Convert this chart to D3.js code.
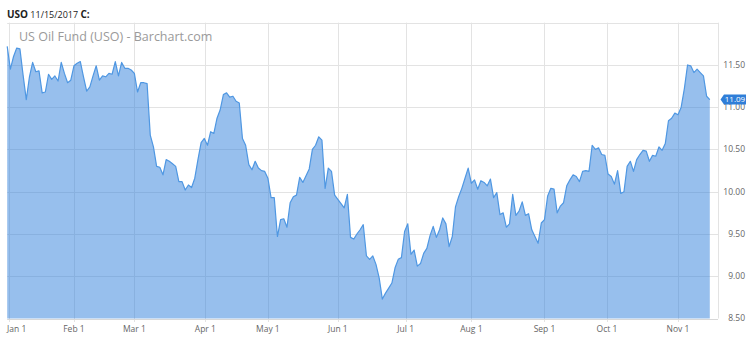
<!DOCTYPE html>
<html><head><meta charset="utf-8">
<script src="https://cdn.jsdelivr.net/npm/d3@7"></script>
<style>body{margin:0;background:#fff}svg{display:block;font-family:"Open Sans",sans-serif}</style>
</head><body><svg id="c" width="750" height="339"></svg>
<script>
// Daily closes, Dec 30 2016 .. Nov 15 2017
const closes = [
11.72,11.45,11.60,11.70,11.69,11.38,11.09,11.36,11.53,11.42,
11.43,11.17,11.18,11.39,11.33,11.37,11.31,11.53,11.40,11.29,
11.32,11.49,11.52,11.54,11.36,11.19,11.24,11.37,11.49,11.32,
11.37,11.36,11.40,11.39,11.54,11.37,11.53,11.46,11.46,11.44,
11.40,11.18,11.29,11.29,11.28,10.67,10.53,10.30,10.29,10.20,
10.38,10.36,10.33,10.30,10.12,10.12,10.02,10.08,10.05,10.16,
10.38,10.58,10.63,10.55,10.71,10.69,10.87,10.97,11.15,11.17,
11.12,11.13,11.07,11.05,10.63,10.55,10.32,10.26,10.36,10.28,
10.25,10.24,10.16,9.93,9.93,9.47,9.67,9.68,9.58,9.87,
9.94,9.96,10.17,10.11,10.19,10.27,10.50,10.55,10.65,10.61,
10.04,10.28,10.24,9.96,9.91,9.86,9.81,9.97,9.46,9.44,
9.50,9.55,9.61,9.24,9.20,9.24,9.14,8.98,8.73,8.80,
8.86,8.92,9.10,9.20,9.22,9.53,9.62,9.26,9.31,9.12,
9.15,9.27,9.33,9.48,9.59,9.46,9.55,9.69,9.62,9.35,
9.47,9.82,9.94,10.04,10.16,10.28,10.10,10.14,10.03,10.13,
10.11,10.07,10.15,9.93,9.99,9.73,9.75,9.58,9.62,9.97,
9.72,9.77,9.88,9.72,9.74,9.55,9.47,9.39,9.63,9.67,
9.95,10.04,10.03,9.75,9.83,9.87,10.07,10.14,10.20,10.18,
10.12,10.24,10.25,10.24,10.55,10.50,10.52,10.44,10.43,10.21,
10.18,10.09,10.25,9.98,10.00,10.30,10.36,10.24,10.38,10.44,
10.49,10.48,10.36,10.43,10.42,10.53,10.49,10.57,10.84,10.87,
10.93,10.91,11.00,11.22,11.50,11.49,11.41,11.45,11.41,11.37,
11.13,11.09
];
const firstDay = "2016-12-30";
const lastDay = "2017-11-15";
const holidays = ["2017-01-02","2017-01-16","2017-02-20","2017-04-14","2017-05-29","2017-07-04","2017-09-04"];
const tickDates = ["2017-01-01","2017-02-01","2017-03-01","2017-04-01","2017-05-01","2017-06-01","2017-07-01","2017-08-01","2017-09-01","2017-10-01","2017-11-01"];
const tickLabels = ["Jan 1","Feb 1","Mar 1","Apr 1","May 1","Jun 1","Jul 1","Aug 1","Sep 1","Oct 1","Nov 1"];
const yTicks = [8.5,9,9.5,10,10.5,11,11.5];
const yGrid = [9,9.5,10,10.5,11,11.5,12];
const yTickLabels = ["8.50","9.00","9.50","10.00","10.50","11.00","11.50"];
const lastLabel = "11.09";
const symbol = "USO", dateText = "11/15/2017", closeText = "C:";
const titleText = "US Oil Fund (USO) - Barchart.com";

const parse = d3.timeParse("%Y-%m-%d"), fmt = d3.timeFormat("%Y-%m-%d");
const hol = new Set(holidays);
const days = d3.timeDay.range(parse(firstDay), d3.timeDay.offset(parse(lastDay), 1))
  .filter(d => d.getDay() % 6 !== 0 && !hol.has(fmt(d)));
const n = Math.min(days.length, closes.length);
const data = d3.range(n).map(i => ({i, date: days[i], v: closes[i]}));

const L = 7.2, R = 709.8, boxR = 718, T = 22.7, B = 318.5;
const x = d3.scaleLinear().domain([0, n - 1]).range([L, R]);
const y = d3.scaleLinear().domain([8.5, 12]).range([B, T]);

function pos(date) {
  const k = d3.bisectLeft(days, date);
  if (k >= days.length) return n - 1;
  if (+days[k] === +date || k === 0) return k;
  return k - 1 + (date - days[k - 1]) / (days[k] - days[k - 1]);
}

const svg = d3.select("#c");
const grid = "#e3e3e3";

// header
const h = svg.append("text").attr("x", 7).attr("y", 17.5).attr("fill", "#222").style("font-size", "10px");
h.append("tspan").attr("font-weight", "bold").text(symbol);
h.append("tspan").style("font-size", "9px").text(" " + dateText + " ");
h.append("tspan").attr("font-weight", "bold").text(closeText);

// horizontal grid
svg.append("g").selectAll("line").data(yGrid).join("line")
  .attr("x1", L).attr("x2", boxR).attr("y1", d => Math.round(y(d)) + 0.5).attr("y2", d => Math.round(y(d)) + 0.5)
  .attr("stroke", grid).attr("stroke-width", 1);
// right border
svg.append("line").attr("x1", boxR + 0.5).attr("x2", boxR + 0.5).attr("y1", T).attr("y2", B)
  .attr("stroke", grid);
// vertical grid + ticks
const tickPos = tickDates.map(s => x(pos(parse(s))));
svg.append("g").selectAll("line").data(tickPos).join("line")
  .attr("x1", d => Math.round(d) + 0.5).attr("x2", d => Math.round(d) + 0.5)
  .attr("y1", T).attr("y2", B + 3.5).attr("stroke", grid);
// bottom axis line
svg.append("line").attr("x1", L).attr("x2", boxR).attr("y1", Math.round(B) + 0.5).attr("y2", Math.round(B) + 0.5)
  .attr("stroke", "#d8d8d8");

// title
svg.append("text").attr("x", 19).attr("y", 40.5).attr("fill", "#9a9a9a")
  .style("font-size", "12.5px").text(titleText);

// area + line
const area = d3.area().x(d => x(d.i)).y0(B).y1(d => y(d.v));
const line = d3.line().x(d => x(d.i)).y(d => y(d.v));
svg.append("path").datum(data).attr("d", area).attr("fill", "#2f80dc").attr("fill-opacity", 0.5);
svg.append("path").datum(data).attr("d", line).attr("fill", "none")
  .attr("stroke", "#4f97e2").attr("stroke-width", 1.2).attr("stroke-linejoin", "round");

// x labels
svg.append("g").selectAll("text").data(tickLabels).join("text")
  .attr("x", (d, i) => tickPos[i]).attr("y", 332)
  .attr("text-anchor", "middle").attr("fill", "#666").style("font-size", "8.5px").text(d => d)
  .each(function(d, i) {
    const w = this.getComputedTextLength();
    if (tickPos[i] - w / 2 < 7) d3.select(this).attr("x", 7 + w / 2);
  });

// y labels (the 11.00 label sits partly under the last-price tag, as in the original)
svg.append("g").selectAll("text").data(yTicks).join("text")
  .attr("x", 745).attr("y", d => y(d)).attr("dy", "0.35em")
  .attr("text-anchor", "end").attr("fill", "#666").style("font-size", "8.5px")
  .text((d, i) => yTickLabels[i]);

// last price tag
const last = data[n - 1];
const yc = y(last.v);
const tag = svg.append("g");
tag.append("path")
  .attr("d", `M720.5,${yc} L724,${yc - 5} L746,${yc - 5} L746,${yc + 5} L724,${yc + 5} Z`)
  .attr("fill", "#2f7ed8");
tag.append("text").attr("x", 735).attr("y", yc).attr("dy", "0.35em").attr("text-anchor", "middle")
  .attr("fill", "#fff").style("font-size", "8px").text(lastLabel);
</script></body></html>
